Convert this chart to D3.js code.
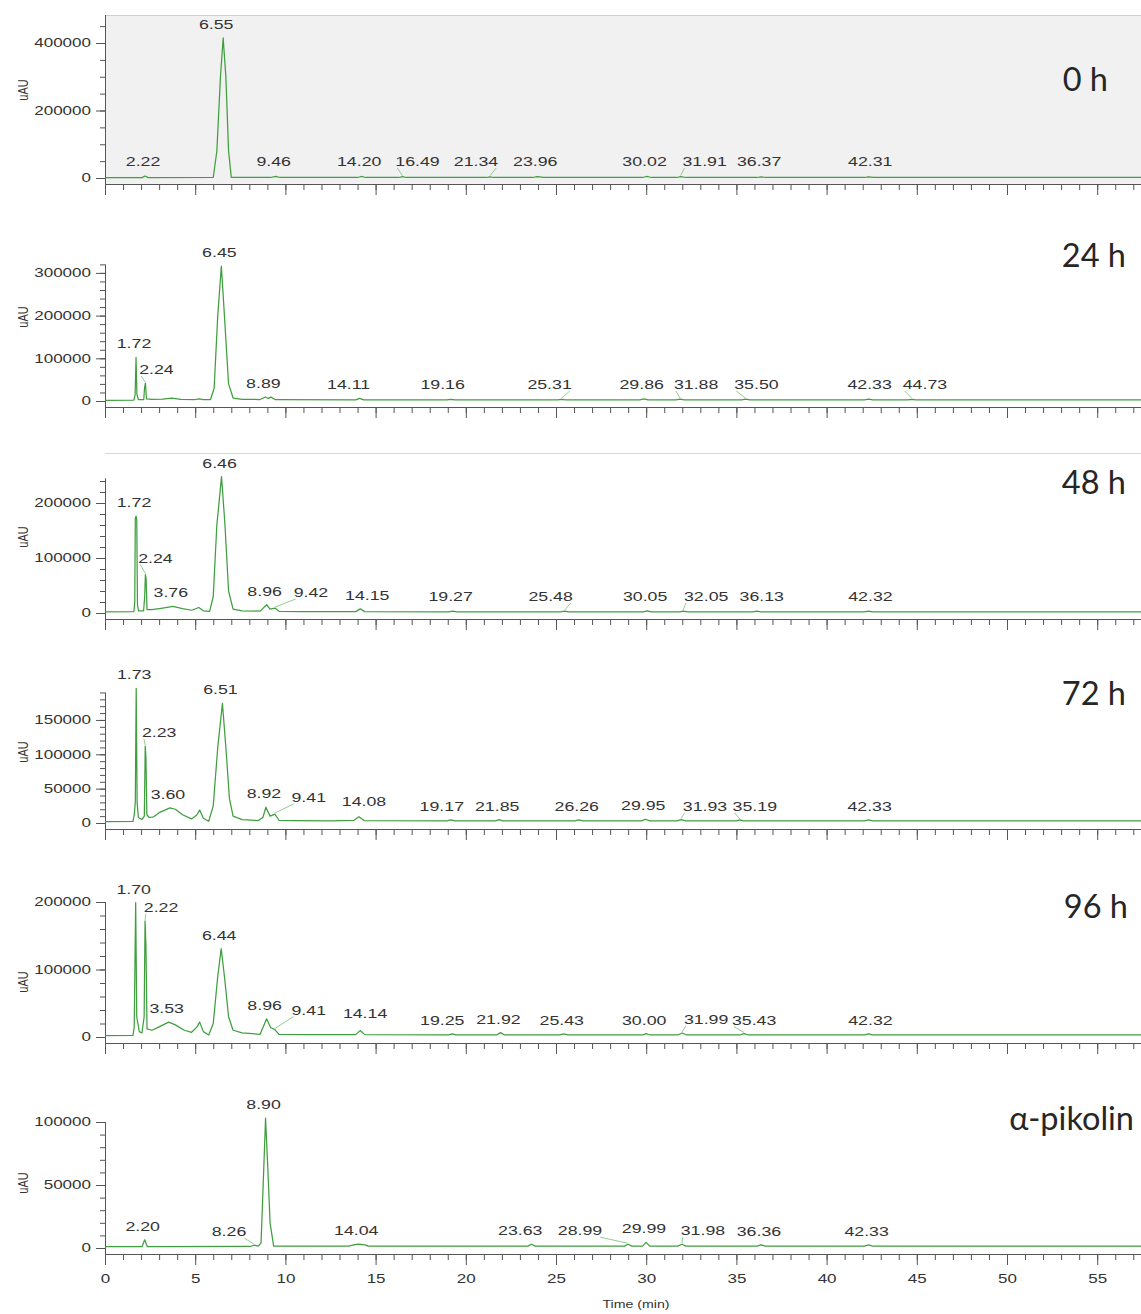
<!DOCTYPE html>
<html>
<head>
<meta charset="utf-8">
<script src="https://cdn.jsdelivr.net/npm/d3@7"></script>
<style>
  body { margin: 0; background: #fff; }
  svg { display: block; }
</style>
</head>
<body>
<svg id="chart" width="1141" height="1314"></svg>
<script>
// ---- Chromatogram traces: [retention time (min), signal (uAU)] ----
const trace0h = [
  [0,1000],[2.05,1000],[2.22,6000],[2.4,1200],
  [6.0,1500],[6.2,80000],[6.4,300000],[6.55,415000],[6.7,300000],[6.85,80000],[7.0,2000],
  [9.2,1500],[9.46,5000],[9.7,1500],
  [14.0,1500],[14.2,4500],[14.45,1500],
  [16.3,1500],[16.49,4000],[16.7,1500],
  [21.15,1500],[21.34,3500],[21.55,1500],
  [23.7,1500],[23.96,4000],[24.3,1500],
  [29.8,1500],[30.02,4500],[30.3,1500],
  [31.7,1500],[31.91,4000],[32.2,1500],
  [36.15,1500],[36.37,3500],[36.6,1500],
  [42.1,1500],[42.31,3500],[42.6,1500],
  [57.5,1500]
];
const trace24h = [
  [0,1500],[1.6,2000],[1.67,15000],[1.72,102000],[1.77,15000],[1.85,3500],
  [2.15,3500],[2.19,30000],[2.24,42000],[2.3,5000],
  [2.6,4000],[3.2,4500],[3.7,6500],[4.2,4000],[5.0,3500],[5.2,5000],[5.45,3000],
  [5.85,3500],[6.05,30000],[6.25,200000],[6.45,316000],[6.62,200000],[6.85,40000],[7.1,7000],[7.6,4000],
  [8.6,3500],[8.89,9500],[9.05,6000],[9.2,9000],[9.45,3000],
  [13.9,2500],[14.11,6000],[14.35,2500],
  [18.95,2500],[19.16,4000],[19.4,2500],
  [25.1,2500],[25.31,4000],[25.55,2500],
  [29.65,2500],[29.86,5000],[30.1,2500],
  [31.65,2500],[31.88,4500],[32.1,2500],
  [35.3,2500],[35.5,4500],[35.75,2500],
  [42.1,2500],[42.33,4500],[42.55,2500],
  [44.5,2500],[44.73,4000],[44.95,2500],
  [57.5,2500]
];
const trace48h = [
  [0,2000],[1.6,2500],[1.65,20000],[1.68,172000],[1.72,176000],[1.76,170000],[1.8,15000],[1.86,4000],
  [2.14,4000],[2.2,30000],[2.24,70000],[2.28,62000],[2.33,6000],
  [2.6,6000],[3.2,9000],[3.76,12000],[4.3,8000],[4.8,5000],[5.2,10000],[5.45,4000],
  [5.8,3000],[6.0,30000],[6.2,160000],[6.46,248000],[6.65,160000],[6.85,40000],[7.1,7000],[7.6,4000],
  [8.6,3500],[8.96,15000],[9.15,7000],[9.42,9000],[9.65,3000],
  [11.0,2500],[13.9,2500],[14.15,7500],[14.4,2500],
  [19.05,2000],[19.27,3500],[19.5,2000],
  [25.25,2000],[25.48,3500],[25.7,2000],
  [29.85,2000],[30.05,4000],[30.3,2000],
  [31.85,2000],[32.05,3500],[32.3,2000],
  [35.9,2000],[36.13,3500],[36.35,2000],
  [42.1,2000],[42.32,3500],[42.55,2000],
  [57.5,2000]
];
const trace72h = [
  [0,2000],[1.55,2500],[1.62,12000],[1.68,30000],[1.73,196000],[1.78,30000],[1.85,8000],
  [2.05,5000],[2.18,10000],[2.23,112000],[2.27,95000],[2.32,12000],[2.45,8000],
  [2.7,9000],[3.0,15000],[3.6,22000],[3.9,20000],[4.3,12000],[4.8,6000],[5.1,12000],[5.25,19000],[5.45,7000],
  [5.75,2500],[6.0,25000],[6.25,110000],[6.51,174000],[6.7,110000],[6.9,35000],[7.1,10000],[7.6,5000],
  [8.5,3500],[8.75,8000],[8.92,23000],[9.15,10000],[9.41,13000],[9.65,4000],
  [10.5,3500],[12.5,3000],[13.8,4000],[14.08,9000],[14.35,3500],
  [18.95,3000],[19.17,4500],[19.4,3000],
  [21.65,3000],[21.85,5000],[22.05,3000],
  [26.05,3000],[26.26,4500],[26.5,3000],
  [29.75,3000],[29.95,5500],[30.2,3000],
  [31.7,3000],[31.93,5000],[32.2,3000],
  [35.0,3000],[35.19,4500],[35.4,3000],
  [42.1,3000],[42.33,4500],[42.55,3000],
  [57.5,3000]
];
const trace96h = [
  [0,2000],[1.55,2500],[1.62,15000],[1.7,199000],[1.76,30000],[1.9,8000],
  [2.05,6000],[2.17,30000],[2.22,172000],[2.27,135000],[2.33,12000],
  [2.6,10000],[3.0,15000],[3.53,22000],[3.9,18000],[4.4,10000],[4.8,7000],[5.1,15000],[5.25,22000],[5.45,8000],
  [5.75,3000],[6.0,20000],[6.25,90000],[6.44,131000],[6.62,90000],[6.85,30000],[7.1,10000],[7.6,6000],
  [8.6,4000],[8.96,27000],[9.18,14000],[9.41,11000],[9.65,4000],
  [11.0,3500],[13.9,3500],[14.14,9500],[14.4,3500],
  [19.05,3000],[19.25,4500],[19.45,3000],
  [21.7,3000],[21.92,6500],[22.15,3000],
  [25.2,3000],[25.43,4500],[25.65,3000],
  [29.8,3000],[30.0,5000],[30.2,3000],
  [31.75,3000],[31.99,6000],[32.25,3000],
  [35.2,3000],[35.43,5000],[35.65,3000],
  [42.1,3000],[42.32,4500],[42.55,3000],
  [57.5,3000]
];
const tracePikolin = [
  [0,1000],[2.05,1000],[2.2,6500],[2.35,1000],
  [8.05,1200],[8.26,2200],[8.5,1500],[8.65,4000],[8.78,55000],[8.9,103000],[9.02,65000],[9.15,20000],[9.35,1500],
  [13.5,1500],[13.8,2500],[14.04,3000],[14.4,2500],[14.6,1500],
  [23.45,1500],[23.63,3000],[23.85,1500],
  [28.8,1500],[28.99,3000],[29.2,1500],
  [29.8,1500],[29.99,4500],[30.2,1500],
  [31.75,1500],[31.98,3000],[32.2,1500],
  [36.15,1500],[36.36,2500],[36.6,1500],
  [42.1,1500],[42.33,2500],[42.55,1500],
  [57.5,1500]
];

// ---- Labelled retention times (min) ----
const peaks0h  = [2.22, 6.55, 9.46, 14.20, 16.49, 21.34, 23.96, 30.02, 31.91, 36.37, 42.31];
const peaks24h = [1.72, 2.24, 6.45, 8.89, 14.11, 19.16, 25.31, 29.86, 31.88, 35.50, 42.33, 44.73];
const peaks48h = [1.72, 2.24, 3.76, 6.46, 8.96, 9.42, 14.15, 19.27, 25.48, 30.05, 32.05, 36.13, 42.32];
const peaks72h = [1.73, 2.23, 3.60, 6.51, 8.92, 9.41, 14.08, 19.17, 21.85, 26.26, 29.95, 31.93, 35.19, 42.33];
const peaks96h = [1.70, 2.22, 3.53, 6.44, 8.96, 9.41, 14.14, 19.25, 21.92, 25.43, 30.00, 31.99, 35.43, 42.32];
const peaksPikolin = [2.20, 8.26, 8.90, 14.04, 23.63, 28.99, 29.99, 31.98, 36.36, 42.33];

// ---- Sample names and axis ticks ----
const sampleNames = ["0 h", "24 h", "48 h", "72 h", "96 h", "α-pikolin"];
const timeTicks = [0, 5, 10, 15, 20, 25, 30, 35, 40, 45, 50, 55];
const signalTicks = [
  [0, 200000, 400000],
  [0, 100000, 200000, 300000],
  [0, 100000, 200000],
  [0, 50000, 100000, 150000],
  [0, 100000, 200000],
  [0, 50000, 100000]
];
const signalMinorStep = [50000, 20000, 20000, 10000, 20000, 10000];
const signalTop = [483000, 320000, 245000, 190000, 200000, 100000];

const traces = [trace0h, trace24h, trace48h, trace72h, trace96h, tracePikolin];
const peakLists = [peaks0h, peaks24h, peaks48h, peaks72h, peaks96h, peaksPikolin];

// ---- Layout (pixels) ----
const layout = [
  { zero: 178,  pxPer100k: 33.75, titleX: 1108, titleY: 91,   unitY: 90 },
  { zero: 401,  pxPer100k: 42.7,  titleX: 1126, titleY: 267,  unitY: 317 },
  { zero: 613,  pxPer100k: 55,    titleX: 1126, titleY: 494,  unitY: 537 },
  { zero: 823,  pxPer100k: 68.7,  titleX: 1126, titleY: 705,  unitY: 752 },
  { zero: 1037, pxPer100k: 67.5,  titleX: 1128, titleY: 918,  unitY: 982 },
  { zero: 1248, pxPer100k: 126,   titleX: 1134, titleY: 1130, unitY: 1183 }
];
// label nudges [dx, dy] where the integrator moved a label off its peak
const labelNudge = [
  { "6.55": [-5, 0], "16.49": [17, 0], "21.34": [-12, 0], "31.91": [26, 0], "42.31": [4, 0] },
  { "2.24": [13, 0], "14.11": [-9, 0], "19.16": [-6, 0], "25.31": [-10, 0], "31.88": [18, 0], "35.50": [13, 0], "42.33": [3, 0], "44.73": [15, 0] },
  { "2.24": [12, -3], "9.42": [38, -2], "14.15": [9, 0], "25.48": [-12, 0], "32.05": [25, 0], "36.13": [7, 0], "42.32": [4, 0] },
  { "2.23": [16, 0], "9.41": [36, -3], "14.08": [7, -2], "19.17": [-7, 0], "31.93": [26, 0], "35.19": [17, 0], "42.33": [3, 0] },
  { "2.22": [18, 0], "9.41": [36, -6], "14.14": [7, -4], "19.25": [-8, 0], "31.99": [26, 0], "35.43": [12, 0], "42.32": [4, 0] },
  { "8.26": [-23, 0], "23.63": [-9, 0], "28.99": [-46, 0], "31.98": [23, 0] }
];

const SX = 1.42;                 // horizontal stretch of the exported instrument text
const FONT = "'Liberation Sans', Arial, sans-serif";
const TRACE = "#3f9f3f";
const AXIS = "#555";
const INK = "#333";

const svg = d3.select("#chart");
const x = d3.scaleLinear().domain([0, 57.5]).range([105, 105 + 57.5 * 18.04]);
const fmt = d3.format(".2f");

// shaded plot area of the first run
const L0 = layout[0];
svg.append("rect")
  .attr("x", 105).attr("y", 15)
  .attr("width", 1141 - 105).attr("height", L0.zero + 6 - 15)
  .attr("fill", "#f1f1f1");
svg.append("line")
  .attr("x1", 105).attr("x2", 1141).attr("y1", 15.5).attr("y2", 15.5)
  .attr("stroke", "#d0d0d0");
// window edge above the 48 h run
svg.append("line")
  .attr("x1", 105).attr("x2", 1141).attr("y1", 453.5).attr("y2", 453.5)
  .attr("stroke", "#d6d6d6");

layout.forEach((L, i) => {
  const top = signalTop[i];
  const y = d3.scaleLinear().domain([0, top]).range([L.zero, L.zero - top * L.pxPer100k / 100000]);
  const g = svg.append("g");
  const axisY = L.zero + 6;
  const isLast = i === layout.length - 1;

  // time axis
  const minorX = g.append("g").attr("transform", `translate(0,${axisY})`)
    .call(d3.axisBottom(x).tickValues(d3.range(0, 58, 1)).tickSize(6).tickSizeOuter(0).tickFormat(""));
  const majorX = g.append("g").attr("transform", `translate(0,${axisY})`)
    .call(d3.axisBottom(x).tickValues(timeTicks).tickSize(11).tickSizeOuter(0).tickPadding(9)
      .tickFormat(isLast ? d3.format("d") : ""));
  [minorX, majorX].forEach(a => {
    a.selectAll("path,line").attr("stroke", AXIS);
    a.selectAll("text").attr("font-family", FONT).attr("font-size", 12).attr("fill", INK)
      .attr("transform", `scale(${SX},1)`);
  });
  majorX.select(".domain").remove();

  // signal axis
  const minorY = g.append("g").attr("transform", "translate(105,0)")
    .call(d3.axisLeft(y).tickValues(d3.range(0, top + 1, signalMinorStep[i])).tickSize(5).tickSizeOuter(0).tickFormat(""));
  const majorY = g.append("g").attr("transform", "translate(105,0)")
    .call(d3.axisLeft(y).tickValues(signalTicks[i]).tickSize(9).tickSizeOuter(0).tickPadding(5).tickFormat(d3.format("d")));
  [minorY, majorY].forEach(a => {
    a.select(".domain").remove();
    a.selectAll("line").attr("stroke", AXIS);
  });
  majorY.selectAll("text")
    .attr("font-family", FONT).attr("font-size", 12).attr("fill", INK)
    .attr("x", -14 / SX).attr("transform", `scale(${SX},1)`);
  g.append("line")
    .attr("x1", 105.5).attr("x2", 105.5).attr("y1", axisY).attr("y2", y(top))
    .attr("stroke", AXIS);

  // unit label
  g.append("text")
    .attr("transform", `translate(23,${L.unitY}) scale(1.3,1) rotate(-90)`)
    .attr("text-anchor", "middle").attr("dominant-baseline", "central")
    .attr("font-family", FONT).attr("font-size", 11).attr("fill", INK)
    .text("uAU");

  // trace
  const line = d3.line().x(d => x(d[0])).y(d => y(d[1]));
  g.append("path").datum(traces[i])
    .attr("d", line)
    .attr("fill", "none").attr("stroke", TRACE).attr("stroke-width", 1.25)
    .attr("stroke-linejoin", "round");

  // peak labels
  peakLists[i].forEach(rt => {
    const txt = fmt(rt);
    const near = traces[i].filter(d => Math.abs(d[0] - rt) <= 0.2);
    const apex = d3.max(near, d => d[1]) || 0;
    const nudge = labelNudge[i][txt] || [0, 0];
    const lx = x(rt) - 2 + nudge[0];
    const ly = Math.min(L.zero - 12, y(apex) - 9) + nudge[1];
    const t = g.append("text")
      .attr("transform", `translate(${lx},${ly}) scale(${SX},1)`)
      .attr("text-anchor", "middle")
      .attr("font-family", FONT).attr("font-size", 12.5).attr("fill", INK)
      .text(txt);
    if (Math.abs(nudge[0]) >= 10) {
      const w = t.node().getComputedTextLength() * SX;
      const ex = nudge[0] > 0 ? lx - w / 2 + 2 : lx + w / 2 - 2;
      g.append("line")
        .attr("x1", x(rt)).attr("y1", y(apex) - 1)
        .attr("x2", ex).attr("y2", ly + 2)
        .attr("stroke", "#8fcf8f").attr("stroke-width", 1);
    }
  });

  // sample name
  svg.append("text")
    .attr("x", L.titleX).attr("y", L.titleY)
    .attr("text-anchor", "end")
    .attr("font-family", "Lato, 'Open Sans', sans-serif").attr("font-size", 32.5).attr("fill", "#262626")
    .text(sampleNames[i]);
});

// time axis title
svg.append("text")
  .attr("transform", `translate(636,1308) scale(1.35,1)`)
  .attr("text-anchor", "middle")
  .attr("font-family", FONT).attr("font-size", 10.5).attr("fill", INK)
  .text("Time (min)");
</script>
</body>
</html>
